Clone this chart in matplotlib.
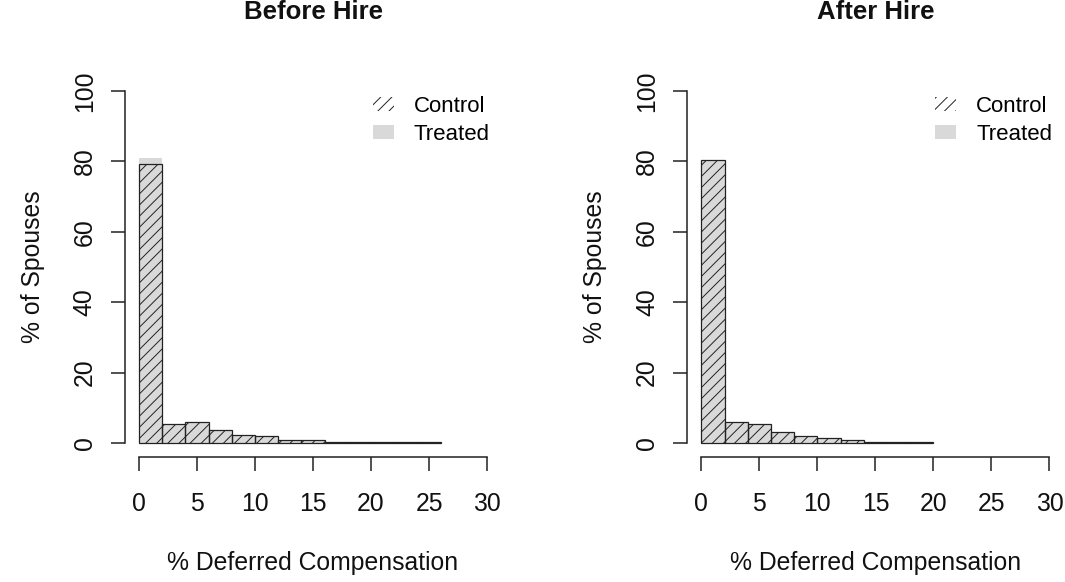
import numpy as np
import matplotlib
matplotlib.use("Agg")
import matplotlib.pyplot as plt
from matplotlib.patches import Patch

plt.rcParams['font.family'] = ['Liberation Sans', 'DejaVu Sans']
plt.rcParams['hatch.linewidth'] = 0.7

# ---- data ----
bin_width = 2
panel_titles = ["Before Hire", "After Hire"]
x_label = "% Deferred Compensation"
y_label = "% of Spouses"
legend_labels = ["Control", "Treated"]
x_ticks = [0, 5, 10, 15, 20, 25, 30]
y_ticks = [0, 20, 40, 60, 80, 100]

before_control = [79.4, 5.3, 5.9, 3.6, 2.3, 1.9, 0.95, 0.95, 0.4, 0.3, 0.25, 0.2, 0.15]
before_treated = [80.9, 5.0, 5.6, 3.4, 2.2, 1.7, 0.9, 0.8, 0.4, 0.3, 0.2, 0.2, 0.1, 0.1, 0.1, 0.1]
after_control = [80.4, 5.9, 5.3, 3.1, 2.0, 1.4, 0.95, 0.4, 0.3, 0.2]
after_treated = [80.0, 5.8, 5.2, 3.0, 1.9, 1.3, 0.9, 0.4, 0.3, 0.2, 0.1, 0.1, 0.1, 0.1, 0.1, 0.1]

panels = [(before_control, before_treated), (after_control, after_treated)]

fig = plt.figure(figsize=(10.65, 5.82), dpi=100)
W, H = 1065, 582
ax_w, ax_h = 376, 380
ax_bottom = 457
lefts = [125, 687.4]

LAB = 17.8
TICK = 17.8
TITLE = 18.5
LEG = 16
treated_color = '#D9D9D9'
edge = '#222222'

for i, (ctrl, trt) in enumerate(panels):
    ax = fig.add_axes([lefts[i] / W, (H - ax_bottom) / H, ax_w / W, ax_h / H])
    ax.set_xlim(-1.2, 31.2)
    ax.set_ylim(-4, 104)
    xt = np.arange(len(trt)) * bin_width
    ax.bar(xt, trt, width=bin_width, align='edge', color=treated_color,
           edgecolor='none', linewidth=0)
    xc = np.arange(len(ctrl)) * bin_width
    ax.bar(xc, ctrl, width=bin_width, align='edge', facecolor='none',
           edgecolor=edge, linewidth=0.9, hatch='///')
    for s in ['top', 'right']:
        ax.spines[s].set_visible(False)
    ax.spines['left'].set_bounds(0, 100)
    ax.spines['bottom'].set_bounds(0, 30)
    for s in ['left', 'bottom']:
        ax.spines[s].set_linewidth(1.1)
        ax.spines[s].set_color(edge)
    ax.set_xticks(x_ticks, [str(t) for t in x_ticks])
    ax.set_yticks(y_ticks, [str(t) for t in y_ticks], rotation=90, va='center')
    ax.tick_params(axis='both', length=10, width=1.1, color=edge,
                   labelsize=TICK, labelcolor='#111111')
    ax.tick_params(axis='x', pad=15)
    ax.tick_params(axis='y', pad=10.3)

    ax.set_xlabel(x_label, fontsize=LAB, color='#111111', va='center')
    ax.xaxis.set_label_coords(0.5, -0.279)
    ax.set_ylabel(y_label, fontsize=LAB, color='#111111', va='center',
                  rotation_mode='default')
    ax.yaxis.set_label_coords(-0.246, 0.5)

    ax.set_title(panel_titles[i], fontsize=TITLE, fontweight='bold',
                 y=(ax_bottom - 27) / ax_h, va='baseline', color='#111111')

    handles = [Patch(facecolor='none', edgecolor=edge, linewidth=0, hatch='///'),
               Patch(facecolor=treated_color, edgecolor='none', linewidth=0)]
    ax.legend(handles, legend_labels, loc='upper left',
              bbox_to_anchor=((373 - 125) / ax_w, (ax_bottom - 96) / ax_h),
              frameon=False, fontsize=LEG, handlelength=0.93, handleheight=0.6,
              handletextpad=0.9, labelspacing=0.31, borderpad=0, borderaxespad=0)

fig.savefig("out.png", dpi=100)
